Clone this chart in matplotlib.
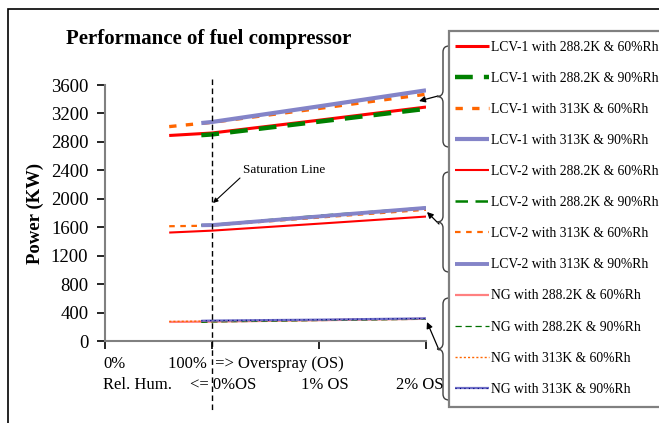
import matplotlib
matplotlib.use("Agg")
import matplotlib.pyplot as plt
from matplotlib.patches import Rectangle, PathPatch
from matplotlib.path import Path
from matplotlib.lines import Line2D

plt.rcParams['font.family'] = ['Liberation Serif', 'DejaVu Serif']

# ---------------- data ----------------
x60 = [0.6, 1.0, 2.0, 3.0]   # 60% RH series start at 60% relative humidity
x90 = [0.9, 1.0, 2.0, 3.0]   # 90% RH series start at 90% relative humidity

lcv1_288_60 = [2890, 2925, 3105, 3290]
lcv1_288_90 = [2895, 2905, 3085, 3265]
lcv1_313_60 = [3015, 3075, 3270, 3470]
lcv1_313_90 = [3065, 3080, 3300, 3525]

lcv2_288_60 = [1525, 1552, 1650, 1750]
lcv2_288_90 = [1628, 1632, 1760, 1872]
lcv2_313_60 = [1614, 1622, 1735, 1845]
lcv2_313_90 = [1628, 1630, 1752, 1872]

ng_288_60 = [268, 272, 292, 312]
ng_288_90 = [262, 268, 288, 306]
ng_313_60 = [275, 280, 298, 314]
ng_313_90 = [284, 287, 300, 318]

legend_labels = [
    "LCV-1 with 288.2K & 60%Rh", "LCV-1 with 288.2K & 90%Rh",
    "LCV-1 with 313K & 60%Rh", "LCV-1 with 313K & 90%Rh",
    "LCV-2 with 288.2K & 60%Rh", "LCV-2 with 288.2K & 90%Rh",
    "LCV-2 with 313K & 60%Rh", "LCV-2 with 313K & 90%Rh",
    "NG with 288.2K & 60%Rh", "NG with 288.2K & 90%Rh",
    "NG with 313K & 60%Rh", "NG with 313K & 90%Rh",
]
yticks = [0, 400, 800, 1200, 1600, 2000, 2400, 2800, 3200, 3600]

# ---------------- figure ----------------
W, H = 659, 423
fig = plt.figure(figsize=(W / 100, H / 100), dpi=100)

def fx(x):
    return x / W

def fy(y):
    return 1 - y / H

ax = fig.add_axes([fx(105), fy(341), fx(426) - fx(105), fy(85) - fy(341)])
ax.set_xlim(0, 3)
ax.set_ylim(0, 3600)

series = [
    (x60, lcv1_288_60, dict(color='#ff0000', lw=2.2, ls='-')),
    (x90, lcv1_288_90, dict(color='#008000', lw=3.2, ls=(0, (4, 2.5)))),
    (x60, lcv1_313_60, dict(color='#ff6600', lw=2.4, ls=(0, (2.2, 2.8)))),
    (x90, lcv1_313_90, dict(color='#8484c8', lw=3.0, ls='-')),
    (x60, lcv2_288_60, dict(color='#ff0000', lw=1.5, ls='-')),
    (x90, lcv2_288_90, dict(color='#008000', lw=1.8, ls=(0, (5, 3)))),
    (x60, lcv2_313_60, dict(color='#ff6600', lw=1.6, ls=(0, (2.5, 2.5)))),
    (x90, lcv2_313_90, dict(color='#8484c8', lw=2.8, ls='-')),
    (x60, ng_288_60, dict(color='#ff8080', lw=1.6, ls='-')),
    (x90, ng_288_90, dict(color='#007000', lw=0.9, ls=(0, (5, 3)))),
    (x60, ng_313_60, dict(color='#ff6600', lw=1.0, ls=(0, (1.5, 1.5)))),
    (x90, ng_313_90, dict(color='#7070c8', lw=1.6, ls='-')),
]
handles = []
for xs, ys, st in series:
    ln, = ax.plot(xs, ys, solid_capstyle='butt', dash_capstyle='butt', **st)
    handles.append(ln)
# dark-blue dotted overlay for the NG 313K 90% series
ax.plot(x90, ng_313_90, color='#000080', lw=0.8, ls=(0, (1, 3)))
handles[-1] = (handles[-1], Line2D([], [], color='#000080', lw=0.8, ls=(0, (1, 3))))

# axes styling
for s in ['top', 'right']:
    ax.spines[s].set_visible(False)
for s in ['left', 'bottom']:
    ax.spines[s].set_color('#808080')
    ax.spines[s].set_linewidth(1.5)
ax.set_yticks(yticks)
ax.set_yticklabels([str(v) for v in yticks])
ax.set_xticks([0, 1, 2, 3])
ax.set_xticklabels([])
ax.tick_params(axis='both', colors='#000000', length=6, width=1.2, direction='out')
ax.tick_params(axis='y', labelsize=13.5, pad=6)

ax.set_ylabel("Power (KW)", fontsize=13.5, fontweight='bold', labelpad=5)

# title
fig.text(fx(209), fy(39), "Performance of fuel compressor", fontsize=15,
         fontweight='bold', ha='center', va='center')

# x-axis category text
xfs = 12
fig.text(fx(103), fy(364), "0%", fontsize=xfs, ha='left', va='center')
fig.text(fx(168), fy(364), "100%  => Overspray (OS)", fontsize=xfs, ha='left', va='center')
fig.text(fx(103), fy(385), "Rel. Hum.", fontsize=xfs, ha='left', va='center')
fig.text(fx(190), fy(385), "<= 0%OS", fontsize=xfs, ha='left', va='center')
fig.text(fx(301), fy(385), "1% OS", fontsize=xfs, ha='left', va='center')
fig.text(fx(396), fy(385), "2% OS", fontsize=xfs, ha='left', va='center')

# saturation line (vertical dashed at x = 1)
fig.add_artist(Line2D([fx(212), fx(212)], [fy(79), fy(410)], color='black',
                      lw=1.0, ls=(0, (4, 2.5)), transform=fig.transFigure))
fig.text(fx(243), fy(170), "Saturation Line", fontsize=9.5, ha='left', va='center')
ax.annotate("", xy=(fx(213), fy(203)), xytext=(fx(240), fy(178)),
            xycoords='figure fraction', textcoords='figure fraction',
            arrowprops=dict(arrowstyle='-|>', color='black', lw=0.8,
                            mutation_scale=7, shrinkA=0, shrinkB=0))

# outer frame
fig.add_artist(Rectangle((fx(8), -0.2), 2, fy(9) + 0.2, transform=fig.transFigure,
                         fill=False, ec='#000000', lw=1.2))

# legend box
fig.add_artist(Rectangle((fx(449), fy(407)), 1, fy(31) - fy(407), transform=fig.transFigure,
                         fill=True, fc='white', ec='#808080', lw=1.6, zorder=2))
leg = fig.legend(handles, legend_labels, loc='upper left',
                 bbox_to_anchor=(fx(451), fy(36.5)), frameon=False,
                 fontsize=9.8, labelspacing=1.33, handlelength=2.5,
                 handletextpad=0.14, borderpad=0.3, borderaxespad=0)
leg.set_zorder(3)

# braces
def brace(top, bot, xv=443, xt=437, xr=449):
    mid = (top + bot) / 2
    pts = [(xr, top), (xv, top), (xv, top + 6),
           (xv, mid - 6),
           (xv, mid), (xt, mid),
           (xv, mid), (xv, mid + 6),
           (xv, bot - 6),
           (xv, bot), (xr, bot)]
    codes = [Path.MOVETO, Path.CURVE3, Path.CURVE3,
             Path.LINETO,
             Path.CURVE3, Path.CURVE3,
             Path.CURVE3, Path.CURVE3,
             Path.LINETO,
             Path.CURVE3, Path.CURVE3]
    verts = [(fx(a), fy(b)) for a, b in pts]
    fig.add_artist(PathPatch(Path(verts, codes), fill=False, ec='#404040', lw=1.0,
                             transform=fig.transFigure))

brace(46, 147)
brace(172, 272)
brace(298, 400)

for (x0, y0), (x1, y1) in [((438, 96), (419, 101)), ((439, 224), (427, 212)),
                           ((439, 350), (427, 322))]:
    ax.annotate("", xy=(fx(x1), fy(y1)), xytext=(fx(x0), fy(y0)),
                xycoords='figure fraction', textcoords='figure fraction',
                arrowprops=dict(arrowstyle='-|>', color='black', lw=0.9,
                                mutation_scale=9, shrinkA=0, shrinkB=0))

fig.savefig("out.png", dpi=100)
